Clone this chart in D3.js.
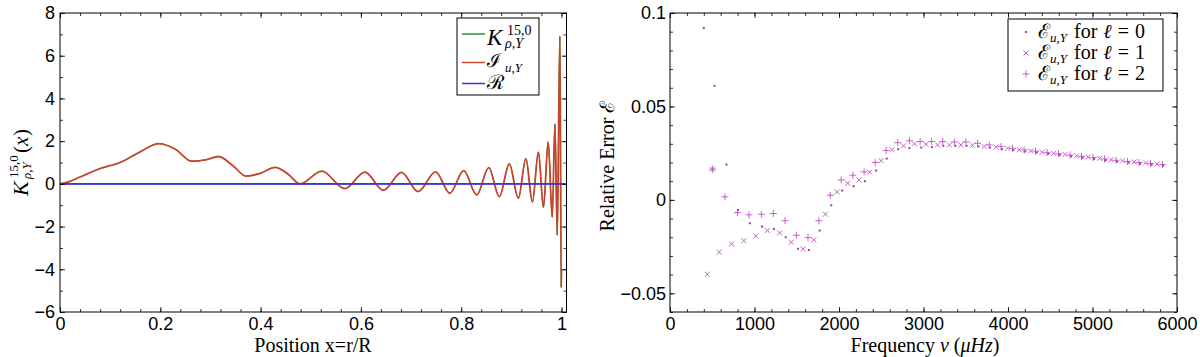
<!DOCTYPE html>
<html><head><meta charset="utf-8">
<script src="https://cdn.jsdelivr.net/npm/d3@7"></script>
<style>body{margin:0;background:#fff}svg{display:block}</style>
</head><body><svg id="c" width="1200" height="357"></svg>
<script>
// ---- data: left panel (kernel) ----
const kernelX = [0, 0.02, 0.04, 0.08, 0.12, 0.16, 0.197, 0.23, 0.263, 0.29, 0.316, 0.345, 0.371, 0.40, 0.429, 0.455, 0.479,
  0.522, 0.568, 0.608, 0.645, 0.681, 0.714, 0.749, 0.7775, 0.805, 0.831, 0.855, 0.876, 0.896, 0.914, 0.929, 0.942,
  0.954, 0.964, 0.9735, 0.9815, 0.987, 0.9915, 0.9968, 0.9995, 1.0];
const kernelY = [0, 0.12, 0.32, 0.72, 1.0, 1.5, 1.88, 1.62, 1.06, 1.12, 1.28, 0.85, 0.36, 0.5, 0.77, 0.45, 0,
  0.6, -0.22, 0.55, -0.3, 0.54, -0.36, 0.56, -0.44, 0.62, -0.52, 0.76, -0.6, 0.93, -0.67, 1.18, -0.85,
  1.49, -1.1, 1.95, -1.55, 2.8, -2.4, 6.9, -4.85, -4.0];
const refX = [0, 1];
const refY = [0, 0];

// ---- data: right panel (relative error) ----
const freqL0 = [400, 527, 668, 805, 945, 1089, 1231, 1369, 1514, 1644, 1771, 1908, 2038, 2172, 2306, 2440, 2565, 2699, 2833, 2972,
  3100, 3235, 3376, 3509, 3651, 3786, 3928, 4062, 4203, 4339, 4475, 4611, 4747, 4883, 5019, 5155, 5291, 5427, 5563, 5699, 5835];
const errL0 = [0.0919, 0.061, 0.0189, -0.0054, -0.0125, -0.0143, -0.0155, -0.0200, -0.0262, -0.0268, -0.0164, -0.0029, 0.0050, 0.0073, 0.0100, 0.0157, 0.0221, 0.0271, 0.0277, 0.0280,
  0.0282, 0.0289, 0.0289, 0.0289, 0.0285, 0.0280, 0.0271, 0.0266, 0.0259, 0.0253, 0.0246, 0.0240, 0.0233, 0.0226, 0.0219, 0.0212, 0.0205, 0.0199, 0.0193, 0.0188, 0.0183];
const freqL1 = [441, 503, 583, 728, 873, 1015, 1153, 1297, 1436, 1573, 1703, 1838, 1975, 2104, 2235, 2364, 2498, 2628, 2763, 2893,
  3030, 3167, 3306, 3443, 3580, 3719, 3857, 3995, 4132, 4268, 4404, 4540, 4676, 4812, 4948, 5084, 5220, 5356, 5492, 5628, 5764];
const errL1 = [-0.0398, 0.0164, -0.0280, -0.0237, -0.0218, -0.0193, -0.0164, -0.0177, -0.0226, -0.0262, -0.0214, -0.0077, 0.0043, 0.0089, 0.0107, 0.0148, 0.0210, 0.0268, 0.0289, 0.0300,
  0.0298, 0.0294, 0.0294, 0.0294, 0.0292, 0.0285, 0.0282, 0.0276, 0.0268, 0.0262, 0.0255, 0.0249, 0.0243, 0.0236, 0.0229, 0.0222, 0.0215, 0.0209, 0.0203, 0.0197, 0.0192];
const freqL2 = [503, 650, 798, 935, 1081, 1223, 1361, 1496, 1633, 1762, 1896, 2026, 2164, 2297, 2428, 2558, 2695, 2833, 2960,
  3096, 3227, 3365, 3502, 3640, 3778, 3917, 4053, 4190, 4326, 4462, 4598, 4734, 4870, 5006, 5142, 5278, 5414, 5550, 5686, 5827];
const errL2 = [0.0164, 0.0016, -0.0068, -0.0080, -0.0077, -0.0073, -0.0111, -0.0189, -0.0202, -0.0112, 0.0025, 0.0107, 0.0132, 0.0150, 0.0200, 0.0264, 0.0306, 0.0316, 0.0312,
  0.0312, 0.0312, 0.0310, 0.0310, 0.0303, 0.0294, 0.0285, 0.0276, 0.0268, 0.0261, 0.0254, 0.0247, 0.0240, 0.0233, 0.0226, 0.0219, 0.0212, 0.0206, 0.0200, 0.0194, 0.0189];

// ---- ticks ----
const leftXTicks = [0, 0.2, 0.4, 0.6, 0.8, 1];
const leftXTickLabels = ["0", "0.2", "0.4", "0.6", "0.8", "1"];
const leftYTicks = [-6, -4, -2, 0, 2, 4, 6, 8];
const leftYTickLabels = ["\u22126", "\u22124", "\u22122", "0", "2", "4", "6", "8"];
const rightXTicks = [0, 1000, 2000, 3000, 4000, 5000, 6000];
const rightXTickLabels = ["0", "1000", "2000", "3000", "4000", "5000", "6000"];
const rightYTicks = [-0.05, 0, 0.05, 0.1];
const rightYTickLabels = ["\u22120.05", "0", "0.05", "0.1"];

const svg = d3.select("#c");
const serif = "'Liberation Serif','DejaVu Serif',serif";
const sans = "'Liberation Sans',Arial,sans-serif";

function drawAxes(x, y, majX, labX, minX, majY, labY, minY, padY) {
  const g = svg.append("g");
  const [x0, x1] = x.range(), [y0, y1] = y.range();
  const mk = (axis, tr, vals, size, labels, pad) => {
    const a = axis.tickValues(vals).tickSizeInner(size).tickSizeOuter(0)
      .tickPadding(pad || 0).tickFormat(labels ? ((d, i) => labels[i]) : () => "");
    const gg = g.append("g").attr("transform", tr).call(a);
    gg.select(".domain").remove();
    gg.selectAll("line").attr("stroke", "#000").attr("stroke-width", 0.8);
    gg.selectAll("text").attr("font-family", sans).attr("font-size", 18).attr("fill", "#000");
    return gg;
  };
  mk(d3.axisBottom(x), `translate(0,${y0})`, majX, -5, labX, 5);
  mk(d3.axisBottom(x), `translate(0,${y0})`, minX, -3, null);
  mk(d3.axisTop(x), `translate(0,${y1})`, majX, -5, null);
  mk(d3.axisTop(x), `translate(0,${y1})`, minX, -3, null);
  mk(d3.axisLeft(y), `translate(${x0},0)`, majY, -5, labY, padY);
  mk(d3.axisLeft(y), `translate(${x0},0)`, minY, -3, null);
  mk(d3.axisRight(y), `translate(${x1},0)`, majY, -5, null);
  mk(d3.axisRight(y), `translate(${x1},0)`, minY, -3, null);
  g.append("rect").attr("x", x0).attr("y", y1).attr("width", x1 - x0).attr("height", y0 - y1)
    .attr("fill", "none").attr("stroke", "#000").attr("stroke-width", 1);
}

// ---------- left panel ----------
const lx = d3.scaleLinear().domain([0, 1.01]).range([60, 566.5]);
const ly = d3.scaleLinear().domain([-6, 8]).range([312, 13]);
const kernelPts = kernelX.map((v, i) => [v, kernelY[i]]);
const refPts = refX.map((v, i) => [v, refY[i]]);
const line = d3.line().x(d => lx(d[0])).y(d => ly(d[1])).curve(d3.curveMonotoneX);

svg.append("line").attr("x1", lx(0)).attr("x2", lx(1.01)).attr("y1", ly(0)).attr("y2", ly(0))
  .attr("stroke", "#000").attr("stroke-width", 1);
svg.append("path").attr("d", line(kernelPts)).attr("fill", "none").attr("stroke", "#22992a").attr("stroke-width", 1.0);
svg.append("path").attr("d", line(kernelPts)).attr("fill", "none").attr("stroke", "#c5452e").attr("stroke-width", 1.8);
svg.append("path").attr("d", line(refPts)).attr("fill", "none").attr("stroke", "#3636e6").attr("stroke-width", 1.6);

drawAxes(lx, ly, leftXTicks, leftXTickLabels, d3.range(0, 1.001, 0.04), leftYTicks, leftYTickLabels, d3.range(-6, 8.01, 1), 5);

// left legend
svg.append("rect").attr("x", 457).attr("y", 18).attr("width", 82).attr("height", 77)
  .attr("fill", "#fff").attr("stroke", "#000").attr("stroke-width", 1);
[["#22992a", 34], ["#c5452e", 62.5], ["#3636e6", 83.5]].forEach(([c, yy]) => {
  svg.append("line").attr("x1", 462).attr("x2", 485).attr("y1", yy).attr("y2", yy).attr("stroke", c).attr("stroke-width", 1.5);
});
const it = (x, y, s, size, italic) => svg.append("text").attr("x", x).attr("y", y).text(s)
  .attr("font-family", serif).attr("font-size", size).attr("font-style", italic ? "italic" : "normal").attr("fill", "#000");
it(487, 45, "K", 23, true);
it(507, 35, "15,0", 14, false);
it(505, 48, "\u03c1,Y", 14, true);
it(487, 67, "\u2110", 19, false);
it(505, 72, "u,Y", 13, true);
it(487, 89, "\u211b", 20, false);

// left y label (rotated)
const ylab = svg.append("g").attr("transform", "translate(28,162) rotate(-90)");
const rt = (x, y, s, size, italic) => ylab.append("text").attr("x", x).attr("y", y).text(s)
  .attr("font-family", serif).attr("font-size", size).attr("font-style", italic ? "italic" : "normal").attr("fill", "#000");
rt(-34, 0, "K", 22, true);
rt(-16, -10, "15,0", 13, false);
rt(-17, 3, "\u03c1,Y", 13, true);
rt(9, 0, "(", 21, false);
rt(16, 0, "x", 21, true);
rt(26, 0, ")", 21, false);

svg.append("text").attr("x", 313).attr("y", 352).attr("text-anchor", "middle")
  .attr("font-family", serif).attr("font-size", 20).text("Position x=r/R");

// ---------- right panel ----------
const rx = d3.scaleLinear().domain([0, 6000]).range([670, 1177]);
const ry = d3.scaleLinear().domain([-0.06, 0.1]).range([312, 13]);
const mcol = "#c24fc6";

drawAxes(rx, ry, rightXTicks, rightXTickLabels, d3.range(0, 6001, 200), rightYTicks, rightYTickLabels, d3.range(-0.06, 0.1001, 0.01), 4);

const pts0 = freqL0.map((f, i) => [f, errL0[i]]);
const pts1 = freqL1.map((f, i) => [f, errL1[i]]);
const pts2 = freqL2.map((f, i) => [f, errL2[i]]);
const dot = (g, cx, cy) => g.append("rect").attr("x", cx - 1).attr("y", cy - 1).attr("width", 2).attr("height", 2).attr("fill", "#a83aa8");
const cross = (g, cx, cy) => g.append("path").attr("d", `M${cx-2.5},${cy-2.5}L${cx+2.5},${cy+2.5}M${cx-2.5},${cy+2.5}L${cx+2.5},${cy-2.5}`)
  .attr("stroke", mcol).attr("stroke-width", 0.9).attr("fill", "none");
const plus = (g, cx, cy) => g.append("path").attr("d", `M${cx-3.5},${cy}L${cx+3.5},${cy}M${cx},${cy-3.5}L${cx},${cy+3.5}`)
  .attr("stroke", mcol).attr("stroke-width", 0.9).attr("fill", "none");
const pg = svg.append("g");
pts2.forEach(d => plus(pg, rx(d[0]), ry(d[1])));
pts1.forEach(d => cross(pg, rx(d[0]), ry(d[1])));
pts0.forEach(d => dot(pg, rx(d[0]), ry(d[1])));

// right legend
svg.append("rect").attr("x", 1008).attr("y", 19).attr("width", 155).attr("height", 72)
  .attr("fill", "#fff").attr("stroke", "#000").attr("stroke-width", 1);
const lg = svg.append("g");
dot(lg, 1026, 32); cross(lg, 1026, 53); plus(lg, 1026, 74);
["0", "1", "2"].forEach((l, i) => {
  const yb = 38 + i * 21;
  const t = svg.append("text").attr("x", 1038).attr("y", yb).attr("font-family", serif).attr("font-size", 20).attr("fill", "#000");
  t.append("tspan").text("\u2130");
  t.append("tspan").attr("font-size", 13).attr("font-style", "italic").attr("dy", 4).text("u,Y");
  t.append("tspan").attr("dy", -4).attr("dx", 7).text("for");
  t.append("tspan").attr("dx", 6).attr("font-style", "italic").text("\u2113");
  t.append("tspan").attr("dx", 6).text("=");
  t.append("tspan").attr("dx", 6).text(l);
});

svg.append("text").attr("transform", "translate(614,166) rotate(-90)").attr("text-anchor", "middle")
  .attr("font-family", serif).attr("font-size", 20).text("Relative Error \u2130");

const xl = svg.append("text").attr("x", 925).attr("y", 352).attr("text-anchor", "middle")
  .attr("font-family", serif).attr("font-size", 20);
xl.append("tspan").text("Frequency ");
xl.append("tspan").attr("font-style", "italic").text("\u03bd");
xl.append("tspan").text(" (");
xl.append("tspan").attr("font-style", "italic").text("\u03bcHz");
xl.append("tspan").text(")");
</script></body></html>
